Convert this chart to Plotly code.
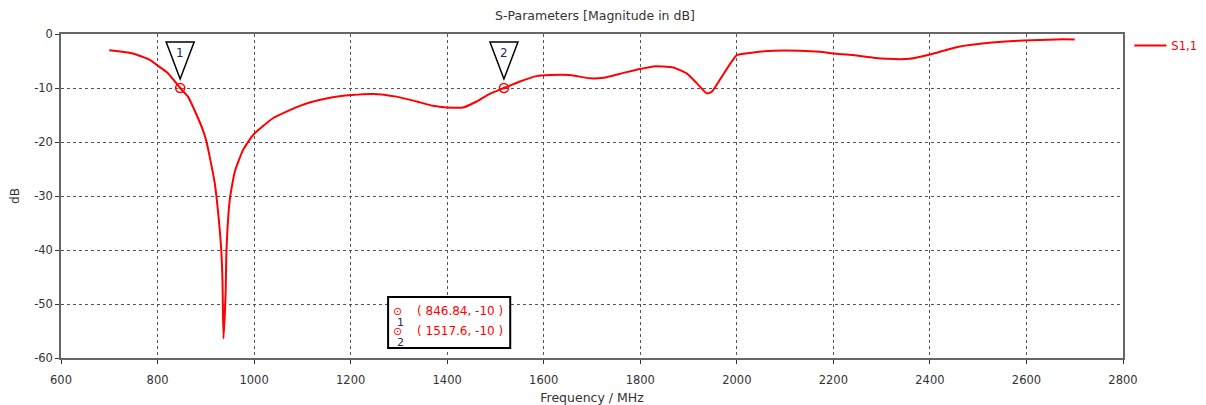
import plotly.graph_objects as go

# Curve S1,1 (frequency in MHz, magnitude in dB)
freq = [700, 749, 784, 801, 822, 846.84, 863, 881, 894, 901, 908, 918.5, 925, 932, 934.5, 936.6,
        941, 942.8, 949.6, 960, 977, 998, 1039, 1074, 1095, 1115, 1157, 1202, 1247, 1295, 1337,
        1371, 1399, 1433, 1461, 1488, 1517.6, 1551, 1585, 1613, 1654, 1696, 1724, 1765, 1799,
        1827, 1868, 1896, 1917, 1938, 1948, 1969, 2000, 2027, 2076, 2131, 2172, 2200, 2241,
        2283, 2310, 2358, 2400, 2462, 2524, 2593, 2662, 2700]
s11 = [-3.0, -3.6, -4.8, -5.9, -7.3, -10.0, -11.6, -15.0, -17.8, -19.8, -22.7, -27.6, -32.6, -40.0, -45.6, -56.4,
       -48.0, -40.0, -30.7, -25.5, -21.5, -18.7, -15.6, -14.1, -13.3, -12.7, -11.8, -11.3, -11.1, -11.6, -12.5,
       -13.3, -13.6, -13.6, -12.5, -11.1, -10.0, -8.8, -7.8, -7.6, -7.6, -8.2, -8.1, -7.2, -6.5,
       -6.0, -6.2, -7.3, -9.1, -11.0, -10.7, -7.9, -3.9, -3.5, -3.1, -3.1, -3.3, -3.6, -3.9,
       -4.4, -4.6, -4.6, -3.8, -2.3, -1.6, -1.2, -1.0, -1.0]

marker_ids = ["1", "2"]
marker_f = [846.84, 1517.6]
marker_db = [-10, -10]
marker_labels = ["( 846.84, -10 )", "( 1517.6, -10 )"]

x_ticks = [600, 800, 1000, 1200, 1400, 1600, 1800, 2000, 2200, 2400, 2600, 2800]
y_ticks = [0, -10, -20, -30, -40, -50, -60]

FONT = "DejaVu Sans"
RED = "#ff0000"
DARK = "#333333"

fig = go.Figure()
fig.add_trace(go.Scatter(x=freq, y=s11, mode="lines", name="S1,1",
                         line=dict(color=RED, width=2, shape="spline", smoothing=0.5)))
fig.add_trace(go.Scatter(x=marker_f, y=marker_db, mode="markers", showlegend=False,
                         marker=dict(symbol="circle-open-dot", size=9, color=RED,
                                     line=dict(width=1.5, color=RED))))

# marker flags (inverted triangles above each marker point)
for mid, fx, fy in zip(marker_ids, marker_f, marker_db):
    fig.add_shape(type="path", xref="x", yref="y", xsizemode="pixel", ysizemode="pixel",
                  xanchor=fx, yanchor=fy, path="M 0 9 L -14 46 L 14 46 Z",
                  line=dict(color="black", width=1.5), fillcolor="white", layer="above")
    fig.add_annotation(x=fx, y=fy, text=mid, showarrow=False, yshift=35,
                       font=dict(family=FONT, size=12, color="#1f2d5a"))

# marker info box
fig.add_shape(type="rect", xref="paper", yref="paper", x0=0.308, x1=0.423, y0=0.031, y1=0.188,
              line=dict(color="black", width=2), fillcolor="white", layer="above")
for i, (mid, lab) in enumerate(zip(marker_ids, marker_labels)):
    yy = 0.117 - i * 0.062
    fig.add_annotation(xref="paper", yref="paper", x=0.311, y=yy, text="⊙", showarrow=False,
                       font=dict(family=FONT, size=11, color=RED))
    fig.add_annotation(xref="paper", yref="paper", x=0.3145, y=yy - 0.034, text=mid, showarrow=False,
                       font=dict(family=FONT, size=11, color="#1f2d5a"))
    fig.add_annotation(xref="paper", yref="paper", x=0.3333, y=yy, text=lab, showarrow=False,
                       xanchor="left", font=dict(family=FONT, size=12, color=RED))

axis_common = dict(showline=True, linecolor="#666666", linewidth=1.5, mirror=True,
                   showgrid=True, gridcolor="#555555", gridwidth=1, griddash="dot",
                   ticks="outside", ticklen=4, tickcolor="#333333", zeroline=False,
                   automargin=False,
                   tickfont=dict(family=FONT, size=11.5, color=DARK))

fig.update_xaxes(range=[600, 2800], tickvals=x_ticks, ticktext=[str(v) for v in x_ticks],
                 ticklabelstandoff=6,
                 title=dict(text="Frequency / MHz", font=dict(family=FONT, size=12.5, color=DARK), standoff=10),
                 **axis_common)
fig.update_yaxes(range=[-60, 0], tickvals=y_ticks, ticktext=[str(v) for v in y_ticks],
                 title=dict(text="dB", font=dict(family=FONT, size=12, color=DARK), standoff=14),
                 **axis_common)

fig.update_layout(
    width=1198, height=397,
    margin=dict(l=53, r=83, t=26, b=47, autoexpand=False),
    paper_bgcolor="white", plot_bgcolor="white",
    title=dict(text="S-Parameters [Magnitude in dB]", x=0.49, xanchor="center", y=0.982, yanchor="middle",
               font=dict(family=FONT, size=12.5, color=DARK)),
    legend=dict(x=1.006, y=1.009, xanchor="left", yanchor="top", bgcolor="rgba(0,0,0,0)",
                font=dict(family=FONT, size=11.5, color=RED), itemwidth=32),
    showlegend=True,
)

fig.write_html("out.html")
